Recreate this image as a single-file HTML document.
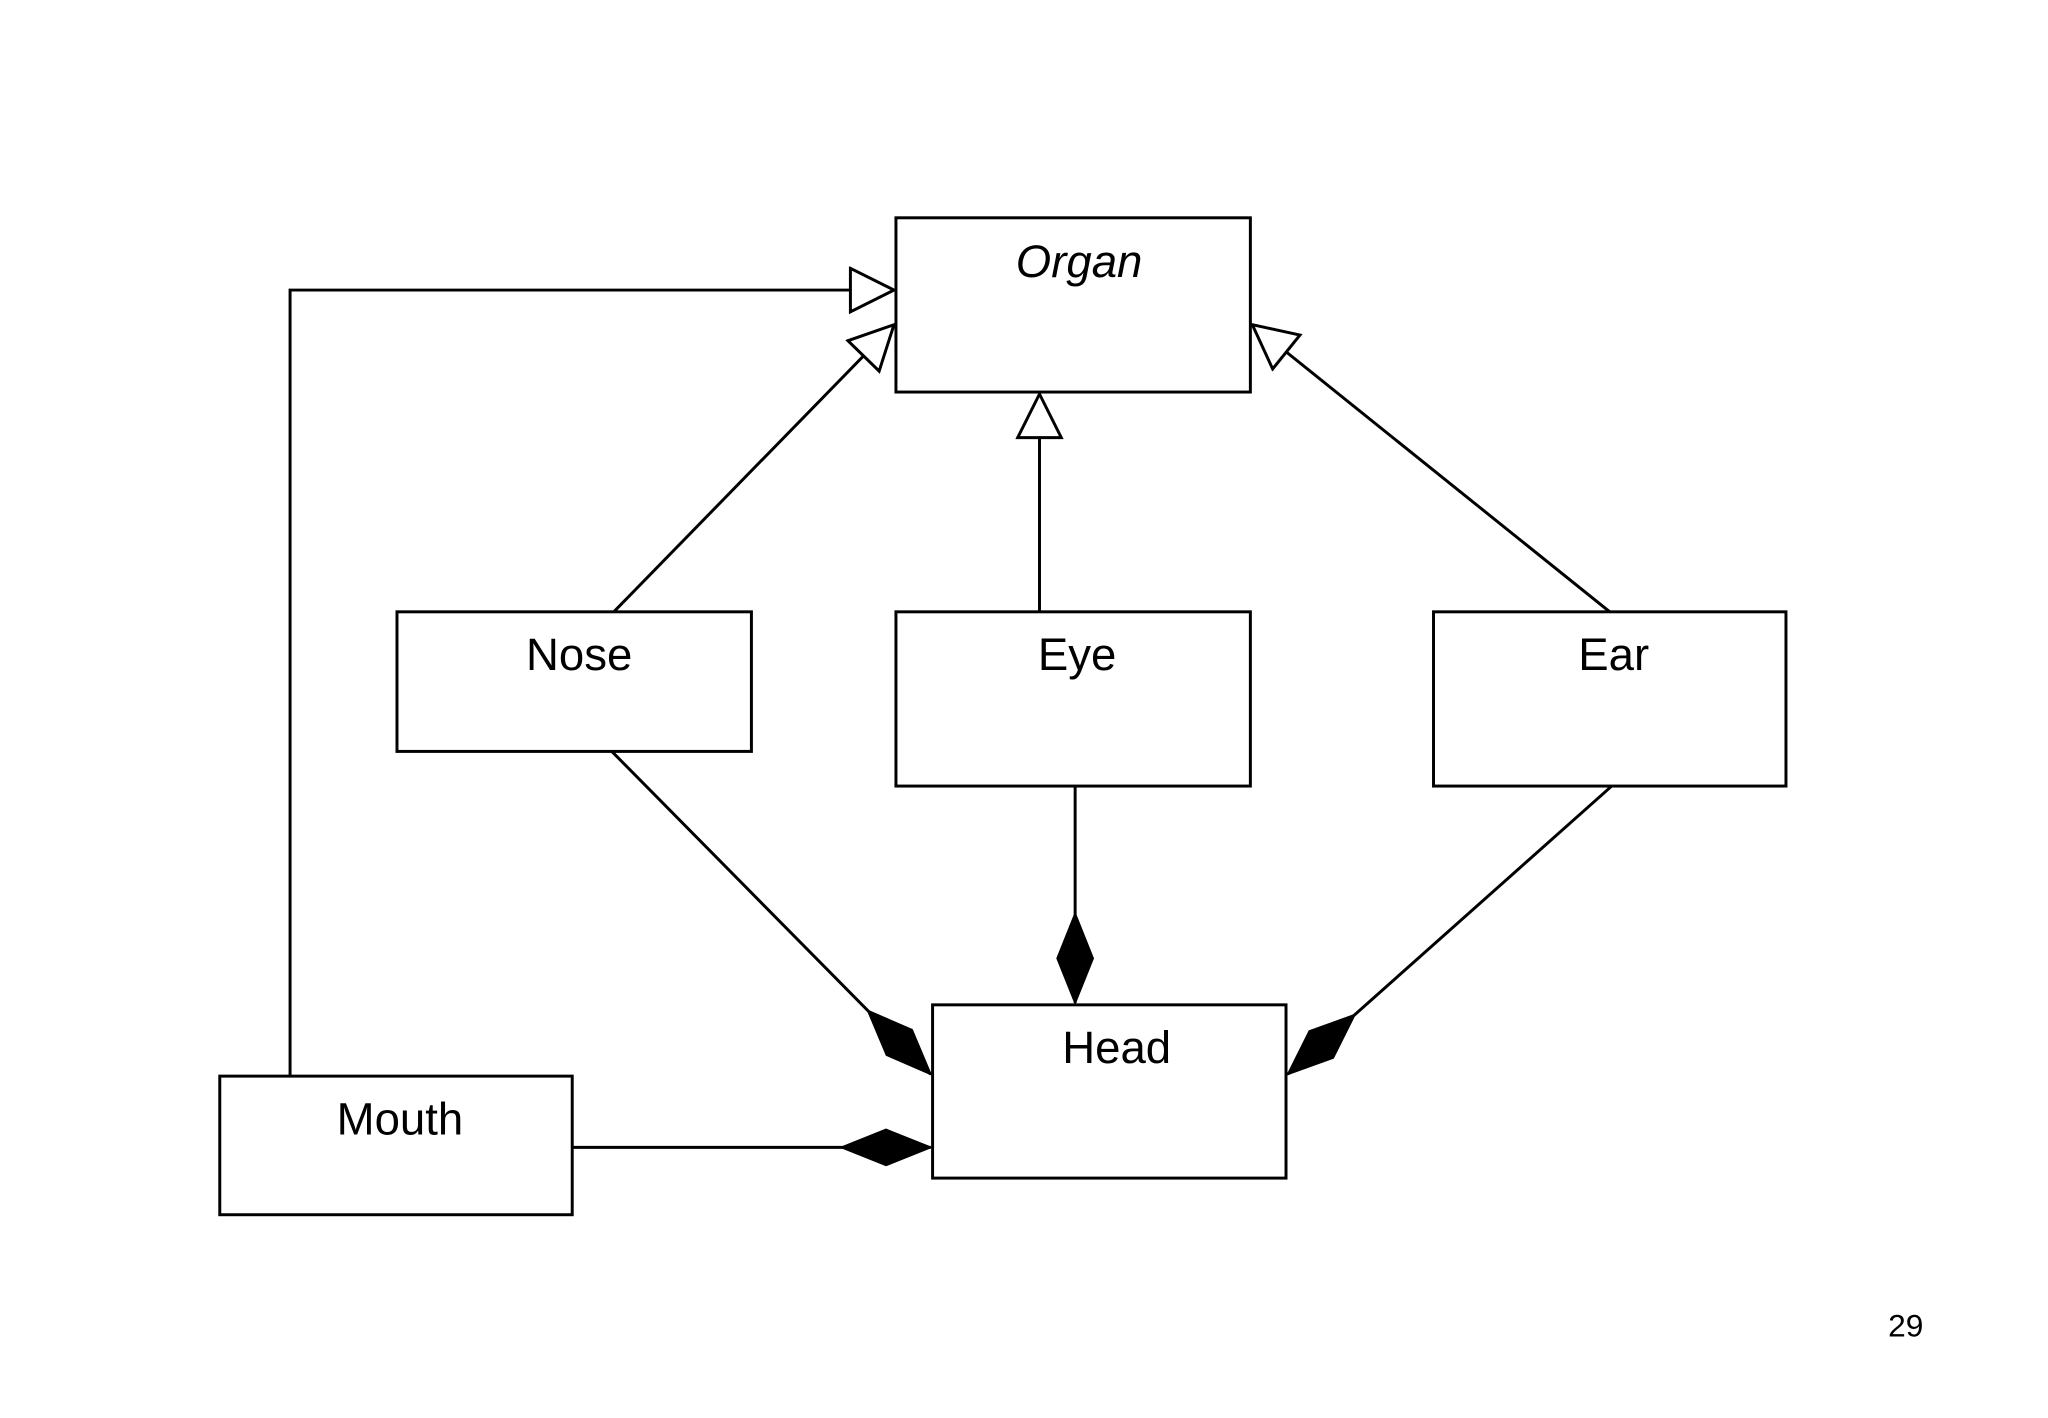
<!DOCTYPE html>
<html><head><meta charset="utf-8"><style>
html,body{margin:0;padding:0;background:#fff;}
svg{display:block;}
text{font-family:"Liberation Sans",sans-serif;fill:#000;}
</style></head><body>
<svg width="2048" height="1418" viewBox="0 0 2048 1418" xmlns="http://www.w3.org/2000/svg">
<defs>
<marker id="tri" markerUnits="userSpaceOnUse" markerWidth="52" markerHeight="52" refX="46" refY="24" orient="auto">
<path d="M2,2 L46,24 L2,46 Z" fill="#fff" stroke="#000" stroke-width="3"/>
</marker>
<marker id="dia" markerUnits="userSpaceOnUse" markerWidth="96" markerHeight="44" refX="92" refY="22" orient="auto">
<path d="M2,22 L47,4 L92,22 L47,40 Z" fill="#000" stroke="#000" stroke-width="2"/>
</marker>
</defs>
<g transform="scale(0.99)">
<g fill="#fff" stroke="#000" stroke-width="3">
<rect x="905" y="220" width="358" height="176"/>
<rect x="401" y="618" width="358" height="141"/>
<rect x="905" y="618" width="358" height="176"/>
<rect x="1448" y="618" width="356" height="176"/>
<rect x="942" y="1015" width="357" height="175"/>
<rect x="222" y="1087" width="356" height="140"/>
</g>
<g fill="none" stroke="#000" stroke-width="3">
<polyline points="293,1087 293,293 903,293" marker-end="url(#tri)"/>
<line x1="620" y1="618" x2="903" y2="328" marker-end="url(#tri)"/>
<line x1="1050" y1="618" x2="1050" y2="398" marker-end="url(#tri)"/>
<line x1="1626" y1="618" x2="1265" y2="328" marker-end="url(#tri)"/>
<line x1="618" y1="759" x2="940" y2="1085" marker-end="url(#dia)"/>
<line x1="1086" y1="794" x2="1086" y2="1013" marker-end="url(#dia)"/>
<line x1="1628" y1="794" x2="1301" y2="1085" marker-end="url(#dia)"/>
<line x1="578" y1="1159" x2="940" y2="1159" marker-end="url(#dia)"/>
</g>
<g font-size="46" text-anchor="middle">
<text x="1090" y="280" font-style="italic">Organ</text>
<text x="585" y="677">Nose</text>
<text x="1088" y="677">Eye</text>
<text x="1630" y="677">Ear</text>
<text x="1128" y="1074">Head</text>
<text x="404" y="1146">Mouth</text>
</g>
<text x="1925" y="1350" font-size="32" text-anchor="middle">29</text>
</g>
</svg>
</body></html>
